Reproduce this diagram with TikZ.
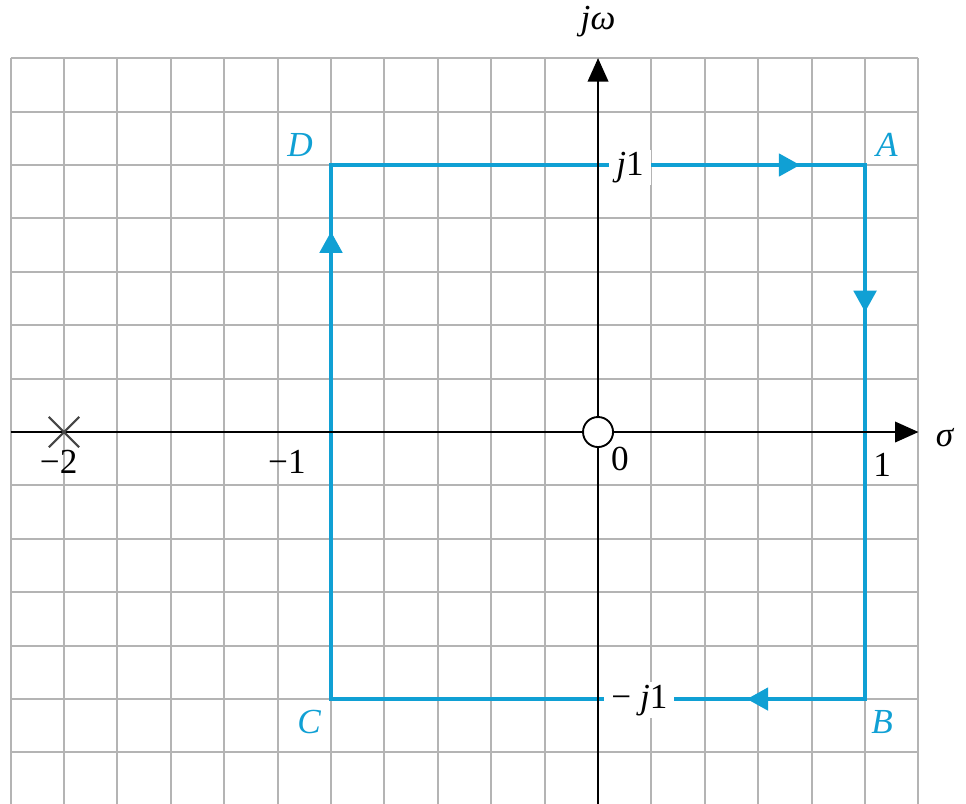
\documentclass[tikz,border=0pt]{standalone}
\usepackage{fontspec}
\setmainfont{Liberation Serif}
\usetikzlibrary{decorations.markings,calc}
\definecolor{cblue}{RGB}{16,160,212}
\definecolor{gridgray}{RGB}{180,180,180}
\definecolor{xgray}{RGB}{70,70,70}
\begin{document}
\begin{tikzpicture}[x=4cm,y=4cm,
 gridline/.style={draw=gridgray,line width=0.85pt},
 axisline/.style={draw=black,line width=0.8pt},
 contour/.style={draw=cblue,line width=1.7pt,line join=miter},
 cornerlbl/.style={font=\fontsize{15}{17}\selectfont\itshape,text=cblue,inner sep=0pt},
 ticklbl/.style={font=\fontsize{15}{17}\selectfont,inner sep=0pt},
 vallbl/.style={font=\fontsize{15}{17}\selectfont,fill=white,inner xsep=3pt,inner ysep=1pt},
 bluetri/.style={decoration={markings,mark=at position #1 with {\fill[cblue] (0,0) -- (-9pt,5pt) -- (-9pt,-5pt) -- cycle;}},postaction={decorate}}
]
\useasboundingbox (-2.2397,-1.393) rectangle (1.378,1.618);
% grid
\foreach \i in {0,...,17} \draw[gridline] ({-2.2+0.2*\i},-1.45) -- ({-2.2+0.2*\i},1.4);
\foreach \j in {0,...,14} \draw[gridline] (-2.2,{-1.4+0.2*\j}) -- (1.2,{-1.4+0.2*\j});
% contour corners
\coordinate (A) at (1,1);
\coordinate (B) at (1,-1);
\coordinate (C) at (-1,-1);
\coordinate (D) at (-1,1);
\draw[contour] (A) -- (B) -- (C) -- (D) -- cycle;
\path[bluetri=0.878] (D) -- (A);
\path[bluetri=0.275] (A) -- (B);
\path[bluetri=0.221] (B) -- (C);
\path[bluetri=0.875] (C) -- (D);
% value labels
\node[vallbl] (j1) at (0.12,0.99) {\textit{j}1};
\node[vallbl] (mj1) at (0.155,-1.004) {− \textit{j}1};
% axes
\coordinate (xl) at (-2.2,0);
\coordinate (xr) at (1.2,0);
\coordinate (yb) at (0,-1.45);
\coordinate (yt) at (0,1.4);
\draw[axisline] (xl) -- ($(xr)+(-0.02,0)$);
\draw[axisline] (yb) -- ($(yt)+(0,-0.02)$);
\fill (xr) -- ++(-10pt,4.5pt) -- ++(0,-9pt) -- cycle;
\fill (yt) -- ++(-4.5pt,-10pt) -- ++(9pt,0) -- cycle;
\node[font=\fontsize{15}{17}\selectfont,inner sep=0pt] (sigma) at (1.30,-0.02) {\textit{σ}};
\node[font=\fontsize{15}{17}\selectfont,inner sep=0pt] (jw) at (0,1.536) {\textit{jω}};
% pole and zero
\coordinate (pole) at (-2,0);
\draw[xgray,line width=0.9pt] ($(pole)+(-0.057,-0.057)$) -- ($(pole)+(0.057,0.057)$);
\draw[xgray,line width=0.9pt] ($(pole)+(-0.057,0.057)$) -- ($(pole)+(0.057,-0.057)$);
\node[circle,draw=black,fill=white,line width=0.8pt,minimum size=0.45cm,inner sep=0pt] (zero) at (0,0) {};
% tick labels
\node[ticklbl] (tm2) at (-2.02,-0.11) {−2};
\node[ticklbl] (tm1) at (-1.165,-0.112) {−1};
\node[ticklbl] (t0) at (0.082,-0.101) {0};
\node[ticklbl] (t1) at (1.064,-0.124) {1};
% corner labels
\node[cornerlbl] (lA) at (1.082,1.075) {A};
\node[cornerlbl] (lB) at (1.064,-1.086) {B};
\node[cornerlbl] (lC) at (-1.082,-1.086) {C};
\node[cornerlbl] (lD) at (-1.116,1.075) {D};
\end{tikzpicture}
\end{document}
